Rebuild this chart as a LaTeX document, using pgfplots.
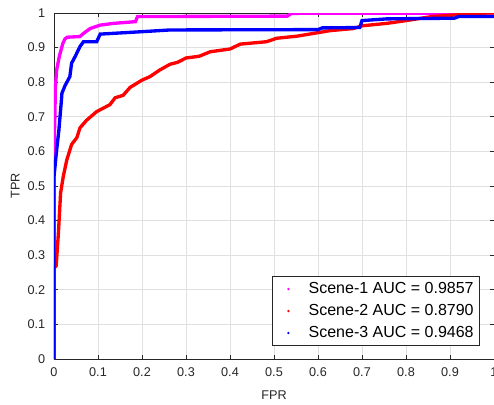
\documentclass[border=0pt]{standalone}
\usepackage{pgfplots}
\pgfplotsset{compat=1.18}
\usepackage{fontspec}
\setmainfont{Liberation Sans}
\definecolor{axgray}{gray}{0.15}
\definecolor{gridgray}{gray}{0.88}
\definecolor{mag}{RGB}{255,0,255}
\definecolor{rd}{RGB}{255,0,0}
\definecolor{bl}{RGB}{0,0,255}
\begin{document}
\begin{tikzpicture}
\begin{axis}[
    name=ax,
    width=330pt, height=259.5pt, scale only axis,
    xmin=0, xmax=1, ymin=0, ymax=1,
    xtick={0,0.1,0.2,0.3,0.4,0.5,0.6,0.7,0.8,0.9,1},
    ytick={0,0.1,0.2,0.3,0.4,0.5,0.6,0.7,0.8,0.9,1},
    /pgf/number format/assume math mode=true,
    tick label style={font=\fontsize{9.5}{11}\selectfont, text=axgray},
    xticklabel style={yshift=-3pt},
    yticklabel style={xshift=-3pt},
    label style={font=\fontsize{9.5}{11}\selectfont, text=axgray},
    xlabel={FPR}, ylabel={TPR},
    xlabel style={at={(axis description cs:0.5,-0.104)}, anchor=center},
    ylabel style={at={(axis description cs:-0.088,0.5)}, anchor=center, rotate=0},
    axis line style={axgray, line width=0.5pt},
    tick style={axgray, line width=0.5pt},
    tick align=inside, major tick length=3pt,
    xtick pos=both, ytick pos=both,
    grid=major, major grid style={gridgray, line width=0.5pt},
    legend style={at={(0.968,0.038)}, anchor=south east, draw=axgray,
        font=\fontsize{12}{14}\selectfont, row sep=2.6pt, inner sep=2.5pt,
        cells={anchor=west}},
    legend image code/.code={\fill[#1, draw=none] (0.3cm,0) circle (1pt); \path (0,0) (0.72cm,0);},
]
% Scene-1
\addplot[mag, line width=2.5pt] coordinates {
(0,0) (0,0.60) (0.002,0.70) (0.003,0.78) (0.006,0.835) (0.012,0.874) (0.02,0.912)
(0.025,0.925) (0.03,0.93) (0.059,0.932) (0.067,0.941) (0.082,0.955) (0.105,0.965)
(0.135,0.97) (0.185,0.975) (0.19,0.99) (0.26,0.99) (0.53,0.991) (0.54,0.999) (1,1)
};
\addlegendentry{Scene-1 AUC = 0.9857}
% Scene-2
\addplot[rd, line width=2.5pt] coordinates {
(0,0) (0,0.262) (0.005,0.27) (0.01,0.364) (0.015,0.48) (0.021,0.527) (0.029,0.575)
(0.04,0.62) (0.052,0.64) (0.059,0.668) (0.074,0.69) (0.097,0.715) (0.127,0.735)
(0.139,0.755) (0.157,0.762) (0.173,0.785) (0.2,0.806) (0.218,0.816) (0.24,0.835)
(0.264,0.852) (0.28,0.857) (0.30,0.87) (0.33,0.875) (0.355,0.888) (0.40,0.896)
(0.423,0.91) (0.483,0.917) (0.506,0.927) (0.552,0.933) (0.59,0.941) (0.627,0.949)
(0.68,0.955) (0.70,0.963) (0.756,0.97) (0.80,0.978) (0.86,0.99) (0.92,0.995)
(0.985,1.0) (1,1)
};
\addlegendentry{Scene-2 AUC = 0.8790}
% Scene-3
\addplot[bl, line width=2.5pt] coordinates {
(0,0) (0,0.527) (0.006,0.604) (0.011,0.66) (0.017,0.75) (0.018,0.768) (0.025,0.79)
(0.036,0.816) (0.04,0.855) (0.048,0.874) (0.059,0.903) (0.067,0.917) (0.097,0.917)
(0.105,0.939) (0.2,0.946) (0.264,0.951) (0.6,0.952) (0.61,0.957) (0.695,0.958)
(0.70,0.978) (0.756,0.983) (0.91,0.985) (0.92,0.99) (1,0.99)
};
\addlegendentry{Scene-3 AUC = 0.9468}
\end{axis}
\pgfresetboundingbox
\path[use as bounding box] ([xshift=-40.5pt,yshift=-33.75pt]ax.south west) rectangle ([yshift=9.75pt]ax.north east);
\end{tikzpicture}
\end{document}
